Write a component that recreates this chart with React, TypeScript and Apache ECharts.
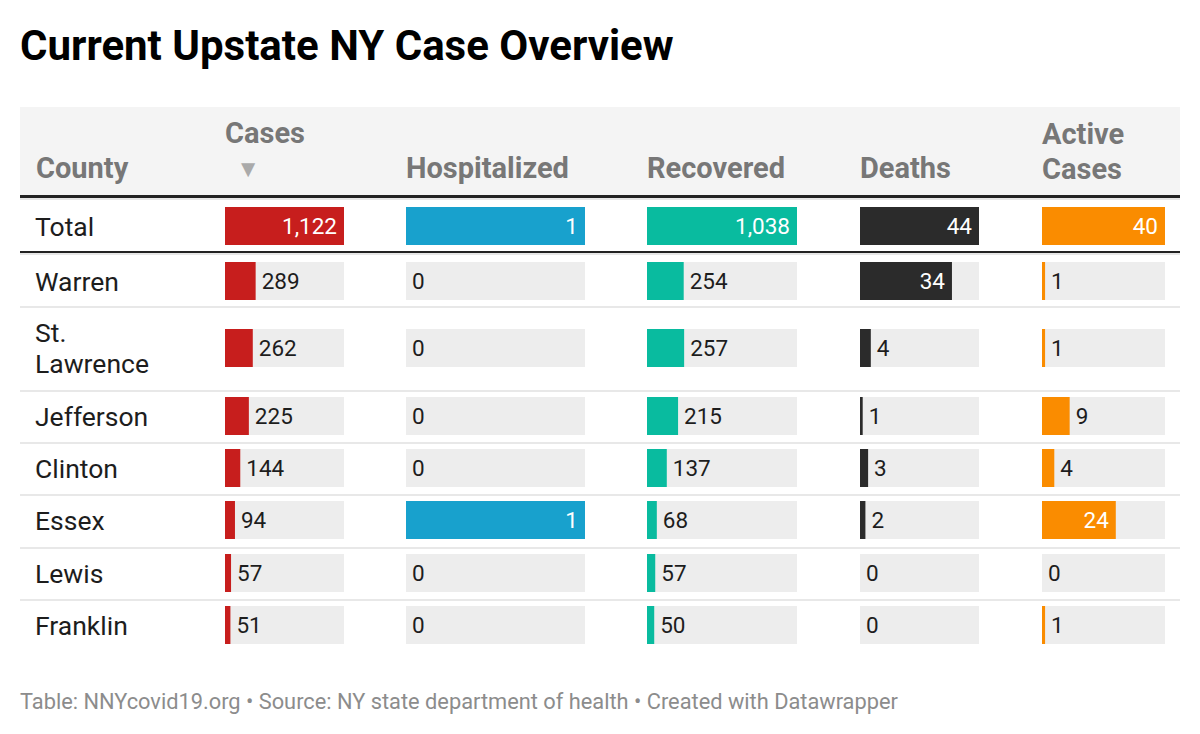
import React, { useEffect, useRef } from "react";
import * as echarts from "echarts";

const title = "Current Upstate NY Case Overview";
const footer = "Table: NNYcovid19.org • Source: NY state department of health • Created with Datawrapper";
const counties = ["Total", "Warren", "St. Lawrence", "Jefferson", "Clinton", "Essex", "Lewis", "Franklin"];
const cases = [1122, 289, 262, 225, 144, 94, 57, 51];
const hospitalized = [1, 0, 0, 0, 0, 1, 0, 0];
const recovered = [1038, 254, 257, 215, 137, 68, 57, 50];
const deaths = [44, 34, 4, 1, 3, 2, 0, 0];
const active = [40, 1, 1, 9, 4, 24, 0, 1];
const columnNames = ["Cases", "Hospitalized", "Recovered", "Deaths", "Active\nCases"];
const firstHeader = "County";

const columns = [cases, hospitalized, recovered, deaths, active];
const colors = ["#c71e1d", "#18a1cd", "#09bb9f", "#2b2b2b", "#fa8c00"];

// layout
const colLeft = [225, 406, 647, 860, 1042];
const colWidth = [119, 179, 150, 119, 123];
const rowTop = [207, 262, 329, 397, 449, 501, 554, 606];
const barH = 38;
const sepY = [306, 390, 442, 494, 547, 599];
const FONT = "Roboto";

const fmt = (v: number) => v.toLocaleString("en-US");

export default function App() {
  const ref = useRef<HTMLDivElement>(null);
  useEffect(() => {
    document.body.style.margin = "0";
    const chart = echarts.init(ref.current!, null, { renderer: "svg" });
    const grid: any[] = [];
    const xAxis: any[] = [];
    const yAxis: any[] = [];
    const series: any[] = [];
    columns.forEach((vals, c) => {
      const max = Math.max(...vals);
      counties.forEach((name, r) => {
        const g = grid.length;
        grid.push({ left: colLeft[c], top: rowTop[r], width: colWidth[c], height: barH });
        xAxis.push({ type: "value", gridIndex: g, min: 0, max, show: false });
        yAxis.push({ type: "category", gridIndex: g, data: [name], show: false });
        const v = vals[r];
        const inside = r === 0 || v / max > 0.45;
        series.push({
          type: "bar",
          xAxisIndex: g,
          yAxisIndex: g,
          barWidth: "100%",
          data: [v],
          itemStyle: { color: colors[c] },
          showBackground: true,
          backgroundStyle: { color: "#ededed" },
          silent: true,
          label: {
            show: true,
            position: inside ? "insideRight" : "right",
            distance: inside ? 7 : 6,
            color: inside ? "#ffffff" : "#1d1d1d",
            fontFamily: FONT,
            fontSize: 22.5,
            formatter: (p: any) => fmt(p.value),
          },
        });
      });
    });

    const graphic: any[] = [
      { type: "text", left: 20, top: 24, style: { text: title, font: `bold 42px ${FONT}`, fill: "#000" } },
      { type: "rect", shape: { x: 20, y: 107, width: 1160, height: 88 }, style: { fill: "#f4f4f4" } },
      { type: "rect", shape: { x: 20, y: 195, width: 1160, height: 3 }, style: { fill: "#222" } },
      { type: "rect", shape: { x: 20, y: 198, width: 1160, height: 2 }, style: { fill: "#e6e6e6" } },
      { type: "rect", shape: { x: 20, y: 251, width: 1160, height: 2 }, style: { fill: "#222" } },
      { type: "rect", shape: { x: 20, y: 253, width: 1160, height: 2 }, style: { fill: "#e6e6e6" } },
      ...sepY.map((y) => ({ type: "rect", shape: { x: 20, y, width: 1160, height: 2 }, style: { fill: "#e8e8e8" } })),
      {
        type: "text", x: 36, y: 168,
        style: { text: firstHeader, font: `bold 29px ${FONT}`, fill: "#777", verticalAlign: "middle" },
      },
      ...columnNames.map((n, c) => {
        const multi = n.includes("\n");
        return {
          type: "text", x: colLeft[c], y: multi ? 116 : c === 0 ? 133 : 168,
          style: { text: n, font: `bold 29px ${FONT}`, fill: "#777", verticalAlign: multi ? "top" : "middle", lineHeight: 35 },
        };
      }),
      { type: "text", x: 248, y: 169, style: { text: "▼", font: `24px ${FONT}`, fill: "#aaa", align: "center", verticalAlign: "middle" } },
      ...counties.map((n, r) => ({
        type: "text", x: 35, y: rowTop[r] + barH / 2,
        style: {
          text: n, font: `26.5px ${FONT}`, fill: "#1d1d1d", verticalAlign: "middle",
          width: 135, overflow: "break", lineHeight: 31,
        },
      })),
      { type: "text", x: 20, y: 701, style: { text: footer, font: `21.8px ${FONT}`, fill: "#8c8c8c", verticalAlign: "middle" } },
    ];

    chart.setOption({
      animation: false,
      backgroundColor: "#ffffff",
      grid, xAxis, yAxis, series, graphic,
    });
    return () => chart.dispose();
  }, []);
  return <div ref={ref} style={{ width: 1200, height: 734 }} />;
}
